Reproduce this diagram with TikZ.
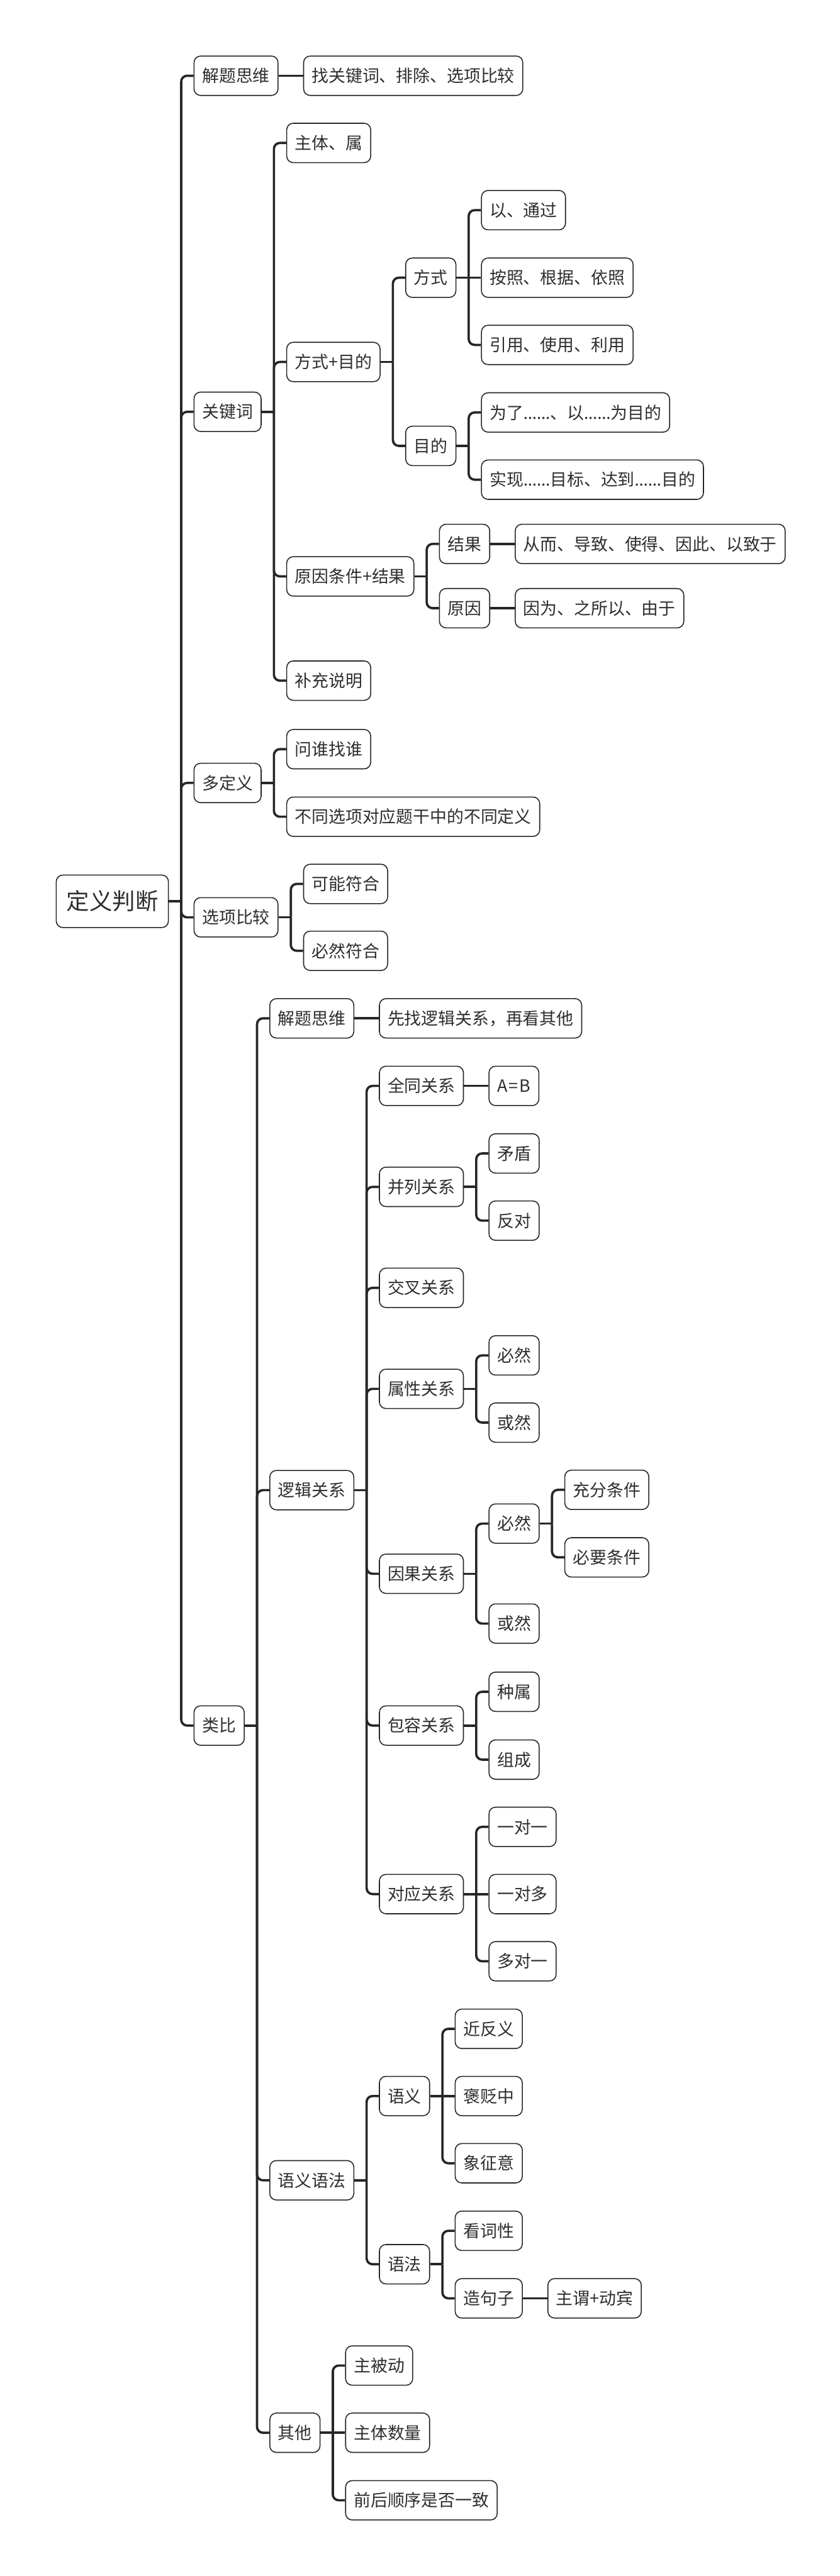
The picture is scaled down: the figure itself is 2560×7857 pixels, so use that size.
\documentclass[tikz,border=0pt]{standalone}
\usepackage{fontspec}
\setmainfont{Noto Sans CJK SC}
\newfontfamily\latfont{Noto Sans}
\usetikzlibrary{calc}
\definecolor{ln}{HTML}{262626}
\definecolor{tx}{HTML}{2E2E2E}
\tikzset{
 box/.style={draw=ln, line width=0.03cm, rounded corners=0.2cm, fill=white,
   minimum height=1.2cm, inner xsep=0.25cm, inner ysep=0pt, text=tx,
   font=\fontsize{14.65pt}{17pt}\selectfont, text height=0.427cm, text depth=0.036cm},
 rootbox/.style={box, minimum height=1.6cm, inner xsep=0.31cm,
   font=\fontsize{19.9pt}{23pt}\selectfont, text height=0.58cm, text depth=0.049cm},
 conn/.style={draw=ln, line width=0.07cm, rounded corners=0.18cm},
}
\newcommand\ellip{{\latfont ……}}
\newcommand\kid[4]{\node[box,anchor=west] (#1) at ($(#2.east |- 0,#3)+(75,0)$) {#4};
 \draw[conn] ($(#2.east)+(37.5,0)$) |- (#1.west);}
\newcommand\kidS[3]{\node[box,anchor=west] (#1) at ($(#2.east)+(75,0)$) {#3};
 \draw[conn] (#2.east) -- (#1.west);}
\newcommand\stub[1]{\draw[conn] (#1.east) -- ++(37.5,0);}
\begin{document}
\begin{tikzpicture}[x=0.01cm,y=-0.01cm]
\path[fill=white] (0,0) rectangle (2560,7857);
\useasboundingbox (0,0) rectangle (2560,7857);
\node[rootbox,anchor=west] (r) at (170,2749) {定义判断};
\stub{r}
% level 1
\kid{a1}{r}{231}{解题思维}
\kidS{a1a}{a1}{找关键词、排除、选项比较}
\kid{a2}{r}{1256}{关键词}
\stub{a2}
\kid{a2a}{a2}{436}{主体、属}
\kid{a2b}{a2}{1104}{方式+目的}
\stub{a2b}
\kid{a2b1}{a2b}{847}{方式}
\stub{a2b1}
\kid{a2b1a}{a2b1}{641}{以、通过}
\kidS{a2b1b}{a2b1}{按照、根据、依照}
\kid{a2b1c}{a2b1}{1052}{引用、使用、利用}
\kid{a2b2}{a2b}{1360}{目的}
\stub{a2b2}
\kid{a2b2a}{a2b2}{1258}{为了\ellip、以\ellip 为目的}
\kid{a2b2b}{a2b2}{1463}{实现\ellip 目标、达到\ellip 目的}
\kid{a2c}{a2}{1758}{原因条件+结果}
\stub{a2c}
\kid{a2c1}{a2c}{1659}{结果}
\kidS{a2c1a}{a2c1}{从而、导致、使得、因此、以致于}
\kid{a2c2}{a2c}{1855}{原因}
\kidS{a2c2a}{a2c2}{因为、之所以、由于}
\kid{a2d}{a2}{2076}{补充说明}
\kid{a3}{r}{2388}{多定义}
\stub{a3}
\kid{a3a}{a3}{2285}{问谁找谁}
\kid{a3b}{a3}{2491}{不同选项对应题干中的不同定义}
\kid{a4}{r}{2798}{选项比较}
\stub{a4}
\kid{a4a}{a4}{2696}{可能符合}
\kid{a4b}{a4}{2900}{必然符合}
\kid{a5}{r}{5263}{类比}
\stub{a5}
% 类比
\kid{b1}{a5}{3106}{解题思维}
\kidS{b1a}{b1}{先找逻辑关系，再看其他}
\kid{b2}{a5}{4545}{逻辑关系}
\stub{b2}
\kid{c1}{b2}{3312}{全同关系}
\kidS{c1a}{c1}{A\kern0.08em=\kern0.08em B}
\kid{c2}{b2}{3620}{并列关系}
\stub{c2}
\kid{c2a}{c2}{3518}{矛盾}
\kid{c2b}{c2}{3723}{反对}
\kid{c3}{b2}{3928}{交叉关系}
\kid{c4}{b2}{4236}{属性关系}
\stub{c4}
\kid{c4a}{c4}{4134}{必然}
\kid{c4b}{c4}{4339}{或然}
\kid{c5}{b2}{4800}{因果关系}
\stub{c5}
\kid{c5a}{c5}{4647}{必然}
\stub{c5a}
\kid{c5a1}{c5a}{4544}{充分条件}
\kid{c5a2}{c5a}{4750}{必要条件}
\kid{c5b}{c5}{4952}{或然}
\kid{c6}{b2}{5263}{包容关系}
\stub{c6}
\kid{c6a}{c6}{5160}{种属}
\kid{c6b}{c6}{5367}{组成}
\kid{c7}{b2}{5777}{对应关系}
\stub{c7}
\kid{c7a}{c7}{5572}{一对一}
\kidS{c7b}{c7}{一对多}
\kid{c7c}{c7}{5982}{多对一}
\kid{b3}{a5}{6650}{语义语法}
\stub{b3}
\kid{d1}{b3}{6393}{语义}
\stub{d1}
\kid{d1a}{d1}{6188}{近反义}
\kidS{d1b}{d1}{褒贬中}
\kid{d1c}{d1}{6598}{象征意}
\kid{d2}{b3}{6906}{语法}
\stub{d2}
\kid{d2a}{d2}{6804}{看词性}
\kid{d2b}{d2}{7010}{造句子}
\kidS{d2b1}{d2b}{主谓+动宾}
\kid{b4}{a5}{7420}{其他}
\stub{b4}
\kid{e1}{b4}{7215}{主被动}
\kidS{e2}{b4}{主体数量}
\kid{e3}{b4}{7626}{前后顺序是否一致}
\end{tikzpicture}
\end{document}
